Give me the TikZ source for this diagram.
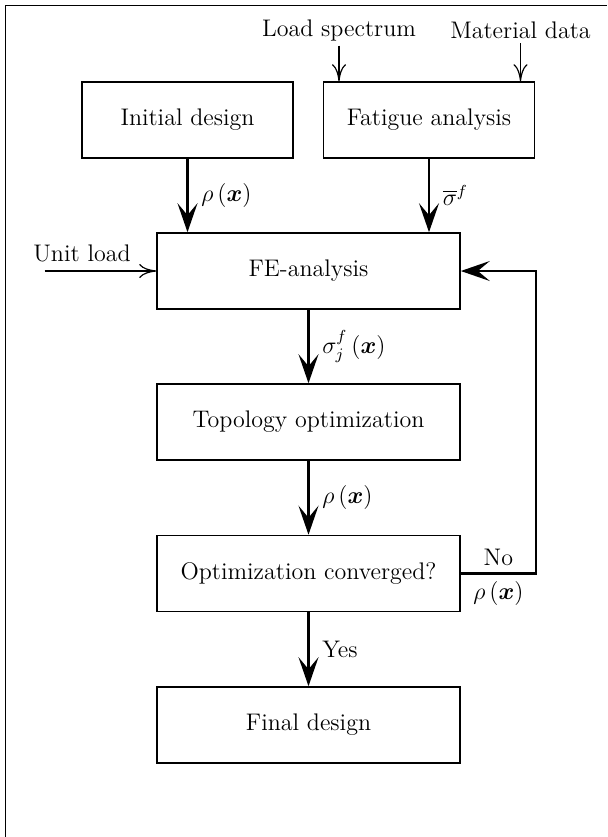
\documentclass[tikz,border=0pt]{standalone}
\usepackage{amsmath,bm}
\usetikzlibrary{arrows.meta}
\tikzset{
  procbox/.style={draw, line width=0.8pt, minimum width=151.5pt, minimum height=38pt, inner sep=0pt},
  smallbox/.style={draw, line width=0.8pt, minimum width=105.5pt, minimum height=38pt, inner sep=0pt},
  flow/.style={line width=1.1pt, -{Stealth[length=14.5pt,width=10pt,inset=6pt]}},
  inflow/.style={line width=0.6pt, -{Computer Modern Rightarrow[length=8.5pt,width=7pt]}},
  lbl/.style={right=3pt},
  txt/.style={inner sep=2.25pt}
}
\begin{document}
\begin{tikzpicture}[x=0.5pt, y=-0.5pt, font=\fontsize{12}{14.4}\selectfont]
\useasboundingbox (0,0) rectangle (607,837);
% frame
\draw[line width=0.8pt] (5.5,837) -- (5.5,5.5) -- (607,5.5);
% boxes
\node[smallbox] (init) at (187.5,120) {Initial design};
\node[smallbox] (fat) at (429,120) {Fatigue analysis};
\node[procbox] (fe) at (308.5,271) {FE-analysis};
\node[procbox] (topo) at (308.5,422) {Topology optimization};
\node[procbox] (conv) at (308.5,573.5) {Optimization converged?};
\node[procbox] (final) at (308.5,725) {Final design};
% inputs
\node[txt] (ls) at (339,30) {Load spectrum};
\node[txt] (md) at (520.5,30) {Material data};
\node[txt] (ul) at (82,253) {Unit load};
\coordinate (ulstart) at (44.5,271);
\coordinate (fb) at (536,0);
\draw[inflow] (ls.south) -- (ls.south |- fat.north);
\draw[inflow] (md.south) -- (md.south |- fat.north);
\draw[inflow] (ulstart) -- (fe.west);
% main flow
\draw[flow] (init.south) -- node[lbl] {$\rho\left(\boldsymbol{x}\right)$} (init.south |- fe.north);
\draw[flow] (fat.south) -- node[lbl] {$\overline{\sigma}^{f}$} (fat.south |- fe.north);
\draw[flow] (fe.south) -- node[lbl] {$\sigma_j^{f}\left(\boldsymbol{x}\right)$} (topo.north);
\draw[flow] (topo.south) -- node[lbl] {$\rho\left(\boldsymbol{x}\right)$} (conv.north);
\draw[flow] (conv.south) -- node[lbl] {Yes} (final.north);
% feedback
\draw[flow] (conv.east) -- node[above] {No} node[below] {$\rho\left(\boldsymbol{x}\right)$} (conv.east -| fb) -- (fe.east -| fb) -- (fe.east);
\end{tikzpicture}
\end{document}
